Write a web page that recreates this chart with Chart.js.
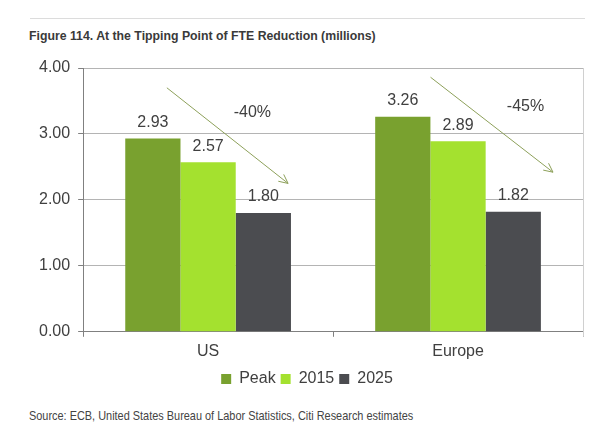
<!DOCTYPE html>
<html>
<head>
<meta charset="utf-8">
<script src="https://cdn.jsdelivr.net/npm/chart.js@4.4.1/dist/chart.umd.min.js"></script>
<style>
  body { margin: 0; background: #fff; width: 615px; height: 430px; position: relative; overflow: hidden; }
  #rule { position: absolute; left: 30px; top: 18px; width: 555px; height: 0; border-top: 1px solid #dcdcdc; }
  #title { position: absolute; left: 29px; top: 28px; font-family: "Liberation Sans", Arial, sans-serif; font-weight: bold; font-size: 13px; color: #3a3a3a; transform: scaleX(0.945); transform-origin: left top; white-space: nowrap; }
  #source { position: absolute; left: 29px; top: 408px; font-family: "Liberation Sans", Arial, sans-serif; font-size: 13px; color: #444; transform: scaleX(0.84); transform-origin: left top; white-space: nowrap; }
  #wrap { position: absolute; left: 0; top: 50px; width: 615px; height: 347px; }
</style>
</head>
<body>
<div id="rule"></div>
<div id="title">Figure 114. At the Tipping Point of FTE Reduction (millions)</div>
<div id="wrap"><canvas id="graf"></canvas></div>
<div id="source">Source: ECB, United States Bureau of Labor Statistics, Citi Research estimates</div>
<script>
const regiones = ['US', 'Europe'];
const pico = [2.93, 3.26];
const anio2015 = [2.57, 2.89];
const anio2025 = [1.80, 1.82];
const ticksY = [0, 1, 2, 3, 4];

// flechas de caida: [categoria, desplazamiento, valor] inicio y fin, texto
const flechas = [
    { cat: 0, x0: -0.165, y0: 3.70, x1: 0.32, y1: 2.25, txt: '-40%', tx: 0.177, ty: 3.32 },
    { cat: 1, x0: -0.11, y0: 3.86, x1: 0.38, y1: 2.42, txt: '-45%', tx: 0.27, ty: 3.41 }
];

const fuente = '"Liberation Sans", Arial, sans-serif';

const etiquetas = {
    id: 'etiquetas',
    afterDatasetsDraw(chart) {
        const ctx = chart.ctx;
        ctx.save();
        ctx.font = '16px ' + fuente;
        ctx.fillStyle = '#404040';
        ctx.textAlign = 'center';
        ctx.textBaseline = 'bottom';
        chart.data.datasets.forEach((ds, i) => {
            chart.getDatasetMeta(i).data.forEach((bar, j) => {
                ctx.fillText(ds.data[j].toFixed(2), bar.x, bar.y - 8);
            });
        });
        ctx.restore();
    }
};

const tendencia = {
    id: 'tendencia',
    afterDatasetsDraw(chart) {
        const ctx = chart.ctx;
        const sx = chart.scales.x, sy = chart.scales.y;
        const ancho = sx.getPixelForValue(1) - sx.getPixelForValue(0);
        ctx.save();
        flechas.forEach(f => {
            const base = sx.getPixelForValue(f.cat);
            const ax = base + f.x0 * ancho, ay = sy.getPixelForValue(f.y0);
            const bx = base + f.x1 * ancho, by = sy.getPixelForValue(f.y1);
            ctx.strokeStyle = '#8da05a';
            ctx.lineWidth = 1;
            ctx.beginPath();
            ctx.moveTo(ax, ay);
            ctx.lineTo(bx, by);
            const ang = Math.atan2(by - ay, bx - ax);
            ctx.moveTo(bx - 10 * Math.cos(ang - 0.45), by - 10 * Math.sin(ang - 0.45));
            ctx.lineTo(bx, by);
            ctx.lineTo(bx - 10 * Math.cos(ang + 0.45), by - 10 * Math.sin(ang + 0.45));
            ctx.stroke();
            ctx.font = '16px ' + fuente;
            ctx.fillStyle = '#404040';
            ctx.textAlign = 'center';
            ctx.textBaseline = 'middle';
            ctx.fillText(f.txt, base + f.tx * ancho, sy.getPixelForValue(f.ty));
        });
        // borde derecho del area
        const a = chart.chartArea;
        ctx.strokeStyle = '#d0d0d0';
        ctx.beginPath();
        ctx.moveTo(a.right + 0.5, a.top);
        ctx.lineTo(a.right + 0.5, a.bottom + 5);
        ctx.stroke();
        ctx.restore();
    }
};

const chart = new Chart(document.getElementById('graf'), {
    type: 'bar',
    data: {
        labels: regiones,
        datasets: [
            { label: 'Peak', data: pico, backgroundColor: '#79a12f' },
            { label: '2015', data: anio2015, backgroundColor: '#a4e12f' },
            { label: '2025', data: anio2025, backgroundColor: '#4b4c50' }
        ]
    },
    options: {
        responsive: true,
        maintainAspectRatio: false,
        animation: false,
        datasets: { bar: { categoryPercentage: 0.663, barPercentage: 1 } },
        layout: { padding: { left: 31, right: 32, top: 18, bottom: 0 } },
        scales: {
            y: {
                min: 0, max: 4,
                afterBuildTicks: s => { s.ticks = ticksY.map(v => ({ value: v })); },
                ticks: { font: { size: 16, family: fuente }, color: '#404040', padding: 8,
                         callback: v => v.toFixed(2) },
                grid: { color: '#b4b4b4', tickLength: 5, tickColor: '#808080' },
                border: { color: '#808080' }
            },
            x: {
                ticks: { font: { size: 16, family: fuente }, color: '#404040', padding: 5 },
                grid: { drawOnChartArea: false, tickLength: 5, tickColor: '#808080', offset: true },
                border: { color: '#808080' }
            }
        },
        plugins: {
            legend: {
                position: 'bottom',
                labels: { boxWidth: 10, boxHeight: 10, padding: 5,
                          font: { size: 16, family: fuente }, color: '#404040' }
            },
            tooltip: { enabled: false }
        }
    },
    plugins: [etiquetas, tendencia]
});
</script>
</body>
</html>
